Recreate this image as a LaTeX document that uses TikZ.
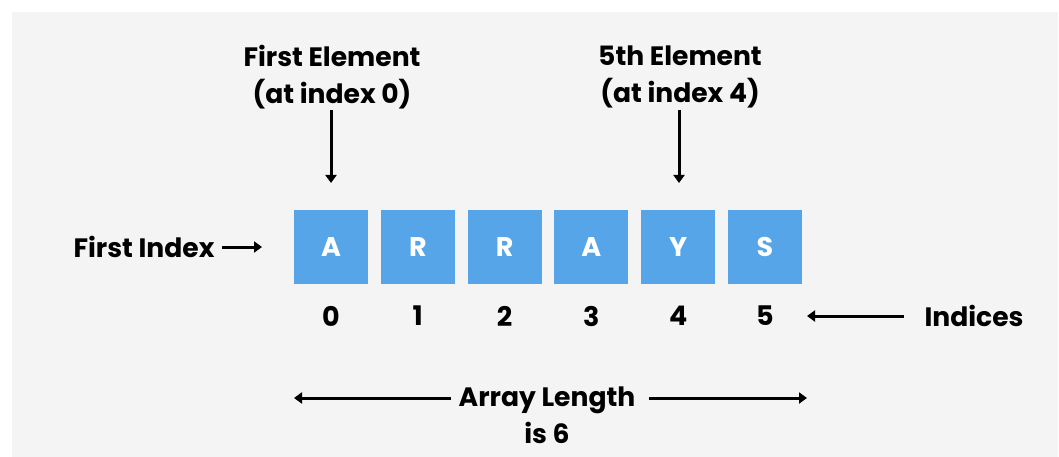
\documentclass[tikz,border=0pt]{standalone}
\usepackage{fontspec}
\setmainfont{Poppins}
\usetikzlibrary{arrows.meta}
\definecolor{bg}{HTML}{F4F4F4}
\definecolor{boxblue}{HTML}{55A5E8}
\tikzset{
  cell/.style={fill=boxblue, minimum size=74pt, inner sep=0pt, text=white, font=\fontsize{27}{30}\selectfont\bfseries},
  lbl/.style={align=center, inner sep=0pt, font=\fontsize{26.6}{37}\selectfont\bfseries},
  idx/.style={inner sep=0pt, font=\fontsize{27}{30}\selectfont\bfseries},
  arr/.style={line width=3pt, -{Triangle[width=11pt,length=8pt]}},
}
\begin{document}
\begin{tikzpicture}[x=1pt,y=-1pt]
\useasboundingbox (0,0) rectangle (1059,457);
\fill[white] (0,0) rectangle (1059,457);
\fill[bg] (12,12) rectangle (1058,457);
% cells
\foreach \l [count=\i from 0] in {A,R,R,A,Y,S}{
  \node[cell] (b\i) at ({331+86.8*\i},247) {\l};
  \node[idx] (n\i) at ({331+86.8*\i},316) {\i};
}
% top labels
\node[lbl] (fe) at (332,77) {First Element\\(at index 0)};
\node[lbl] (ve) at (680,77) {5th Element\\(at index 4)};
\coordinate (fes) at (331,110);
\coordinate (fet) at (331,183);
\coordinate (ves) at (679,110);
\coordinate (vet) at (679,183);
\draw[arr] (fes) -- (fet);
\draw[arr] (ves) -- (vet);
% first index
\node[lbl] (fi) at (144,247) {First Index};
\coordinate (fia) at (222,247);
\coordinate (fib) at (262,247);
\draw[arr] (fia) -- (fib);
% indices
\node[lbl] (ind) at (974,316) {Indices};
\coordinate (inda) at (904,316);
\coordinate (indb) at (807,316);
\draw[arr] (inda) -- (indb);
% array length
\node[lbl] (al) at (547,415) {Array Length\\is 6};
\coordinate (ala) at (451,398);
\coordinate (alb) at (294,398);
\coordinate (alc) at (649,398);
\coordinate (ald) at (807,398);
\draw[arr] (ala) -- (alb);
\draw[arr] (alc) -- (ald);
\end{tikzpicture}
\end{document}
